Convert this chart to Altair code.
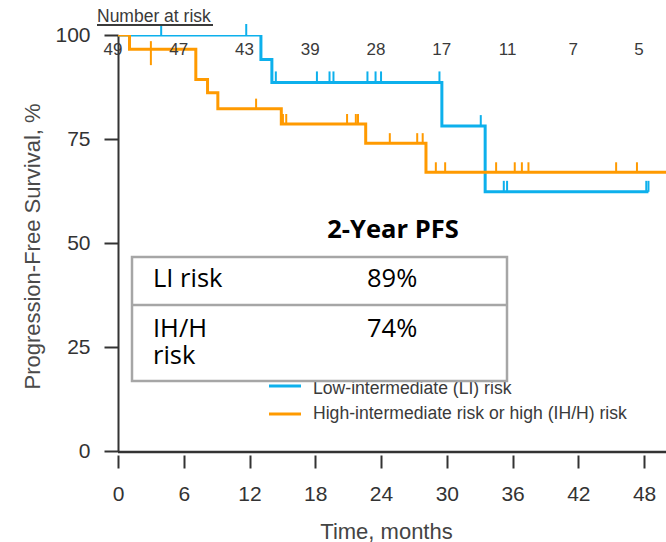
import altair as alt
import pandas as pd

BLUE = "#0DB0EC"
ORANGE = "#FF9A00"
AX = "#333333"
FONT = "Liberation Sans"
TFONT = "Open Sans"

li_name = "Low-intermediate (LI) risk"
ih_name = "High-intermediate risk or high (IH/H) risk"

# Kaplan-Meier steps (time in months, survival %)
li_times = [0, 13.04, 14.04, 29.55, 33.5, 48.4]
li_surv = [100, 94.1, 88.6, 78.1, 62.3, 62.3]
ih_times = [0, 1.05, 7.1, 8.17, 9.11, 14.9, 22.6, 28.1, 50]
ih_surv = [100, 96.6, 89.3, 86.1, 82.3, 78.6, 74.0, 67.0, 67.0]

# censoring times
li_cens_t = [3.94, 11.7, 14.4, 18.15, 19.3, 19.66, 22.76, 23.5, 24.0,
             29.33, 33.1, 35.2, 35.5, 48.2, 48.4]
ih_cens_t = [12.6, 15.05, 15.35, 20.9, 21.7, 21.9, 24.8, 27.3, 27.8,
             29.0, 29.85, 34.5, 36.2, 36.85, 37.45, 45.45, 47.35]
ih_long_cens_t = [3.0]

# number at risk
risk_times = [0, 6, 12, 18, 24, 30, 36, 42, 48]
risk_counts = [49, 47, 43, 39, 28, 17, 11, 7, 5]

x_ticks = [0, 6, 12, 18, 24, 30, 36, 42, 48]
y_ticks = [0, 25, 50, 75, 100]

pfs_title = "2-Year PFS"
pfs_groups = ["LI risk", "IH/H\nrisk"]
pfs_values = ["89%", "74%"]


def level_at(times, surv, t):
    s = surv[0]
    for tt, ss in zip(times, surv):
        if tt <= t:
            s = ss
    return s


df_li = pd.DataFrame({"t": li_times, "s": li_surv})
df_ih = pd.DataFrame({"t": ih_times, "s": ih_surv})
df_li_c = pd.DataFrame({"t": li_cens_t, "s": [level_at(li_times, li_surv, t) for t in li_cens_t]})
df_ih_c = pd.DataFrame({"t": ih_cens_t, "s": [level_at(ih_times, ih_surv, t) for t in ih_cens_t]})
df_ih_lc = pd.DataFrame({"t": ih_long_cens_t, "s": [level_at(ih_times, ih_surv, t) for t in ih_long_cens_t]})
df_risk = pd.DataFrame({"t": risk_times, "n": [str(c) for c in risk_counts]})
one = pd.DataFrame({"k": [0]})

x_scale = alt.Scale(domain=[0, 50], nice=False, zero=False)
y_scale = alt.Scale(domain=[0, 100], nice=False)

x_axis = alt.Axis(values=x_ticks, title="Time, months", domain=False, grid=False,
                  tickSize=13, tickWidth=2, tickColor=AX, offset=4,
                  labelFontSize=21, labelFont=FONT, labelColor=AX,
                  labelBaseline="alphabetic", labelPadding=32, labelFlush=False,
                  labelOverlap=False,
                  titleFontSize=22, titleFont=FONT, titleFontWeight="normal",
                  titleColor="#444444", titleX=268, titleY=83,
                  titleBaseline="alphabetic", titleAlign="center")
y_axis = alt.Axis(values=y_ticks, title="Progression-Free Survival, %", grid=False,
                  domainColor=AX, domainWidth=2, tickSize=14, tickWidth=2,
                  tickColor=AX, labelFontSize=21, labelFont=FONT, labelColor=AX,
                  labelPadding=14, labelOverlap=False,
                  titleFontSize=22, titleFont=FONT, titleFontWeight="normal",
                  titleColor="#4a4a4a", titleX=-86, titleY=211, titleAngle=-90,
                  titleAlign="center", titleBaseline="middle")

X = alt.X("t:Q", scale=x_scale, axis=x_axis)
Y = alt.Y("s:Q", scale=y_scale, axis=y_axis)

line_li = alt.Chart(df_li).mark_line(interpolate="step-after", color=BLUE,
                                     strokeWidth=3, clip=True).encode(x=X, y=Y)
line_ih = alt.Chart(df_ih).mark_line(interpolate="step-after", color=ORANGE,
                                     strokeWidth=3, clip=True).encode(x=X, y=Y)
cens_li = alt.Chart(df_li_c).mark_rule(color=BLUE, strokeWidth=2, y2Offset=-11).encode(
    x=X, y=Y, y2="s:Q")
cens_ih = alt.Chart(df_ih_c).mark_rule(color=ORANGE, strokeWidth=2, y2Offset=-10).encode(
    x=X, y=Y, y2="s:Q")
cens_ih_long = alt.Chart(df_ih_lc).mark_rule(color=ORANGE, strokeWidth=2,
                                             yOffset=16, y2Offset=-8).encode(
    x=X, y=Y, y2="s:Q")

xaxis_line = alt.Chart(one).mark_rule(color=AX, strokeWidth=2.5).encode(
    x=alt.value(0), x2=alt.value(548), y=alt.value(417))

risk_text = alt.Chart(df_risk).mark_text(fontSize=17, font=FONT, color="#3a3a3a",
                                         align="center", baseline="alphabetic",
                                         dx=-5).encode(
    x=X, y=alt.value(20), text="n:N")
risk_header = alt.Chart(one).mark_text(text="Number at risk", fontSize=17.5, font=FONT,
                                       color="#3a3a3a", align="left",
                                       baseline="alphabetic").encode(
    x=alt.value(-21), y=alt.value(-13))
risk_underline = alt.Chart(one).mark_rule(color="#3a3a3a", strokeWidth=2).encode(
    x=alt.value(-21), x2=alt.value(95), y=alt.value(-10))

# legend (drawn manually)
leg_li_line = alt.Chart(one).mark_rule(color=BLUE, strokeWidth=3).encode(
    x=alt.value(151), x2=alt.value(183), y=alt.value(351))
leg_ih_line = alt.Chart(one).mark_rule(color=ORANGE, strokeWidth=3).encode(
    x=alt.value(151), x2=alt.value(183), y=alt.value(379))
leg_li_text = alt.Chart(one).mark_text(text=li_name, fontSize=17.6, font=FONT,
                                       color="#3a3a3a", align="left",
                                       baseline="alphabetic").encode(
    x=alt.value(195), y=alt.value(359))
leg_ih_text = alt.Chart(one).mark_text(text=ih_name, fontSize=17.6, font=FONT,
                                       color="#3a3a3a", align="left",
                                       baseline="alphabetic").encode(
    x=alt.value(195), y=alt.value(384))

# PFS table
box = alt.Chart(one).mark_rect(fill="white", stroke="#A6A6A6", strokeWidth=2.5).encode(
    x=alt.value(14), x2=alt.value(389), y=alt.value(222), y2=alt.value(346))
divider = alt.Chart(one).mark_rule(color="#A6A6A6", strokeWidth=2.5).encode(
    x=alt.value(14), x2=alt.value(389), y=alt.value(270))
tbl_title = alt.Chart(one).mark_text(text=pfs_title, fontSize=25.5, font=TFONT,
                                     fontWeight="bold", color="black", align="center",
                                     baseline="alphabetic").encode(
    x=alt.value(275), y=alt.value(203))
row1_g = alt.Chart(one).mark_text(text=pfs_groups[0], fontSize=25.5, font=TFONT,
                                  color="black", align="left",
                                  baseline="alphabetic").encode(
    x=alt.value(35), y=alt.value(252))
row1_v = alt.Chart(one).mark_text(text=pfs_values[0], fontSize=25.5, font=TFONT,
                                  color="black", align="left",
                                  baseline="alphabetic").encode(
    x=alt.value(249), y=alt.value(252))
row2_g = alt.Chart(one).mark_text(text=pfs_groups[1], fontSize=25.5, font=TFONT,
                                  color="black", align="left", lineBreak="\n",
                                  lineHeight=27, baseline="alphabetic").encode(
    x=alt.value(35), y=alt.value(302))
row2_v = alt.Chart(one).mark_text(text=pfs_values[1], fontSize=25.5, font=TFONT,
                                  color="black", align="left",
                                  baseline="alphabetic").encode(
    x=alt.value(249), y=alt.value(302))

chart = alt.layer(
    line_li, cens_li, line_ih, cens_ih, cens_ih_long, xaxis_line,
    risk_text, risk_header, risk_underline,
    leg_li_line, leg_ih_line, leg_li_text, leg_ih_text,
    box, divider, tbl_title, row1_g, row1_v, row2_g, row2_v,
).properties(
    width=548, height=416,
    padding={"left": 118, "top": 35, "right": 0, "bottom": 91},
    autosize=alt.AutoSizeParams(type="none"),
    background="white",
).configure_view(stroke=None)

chart.save("out.html", embed_options={"renderer": "svg", "actions": False})
